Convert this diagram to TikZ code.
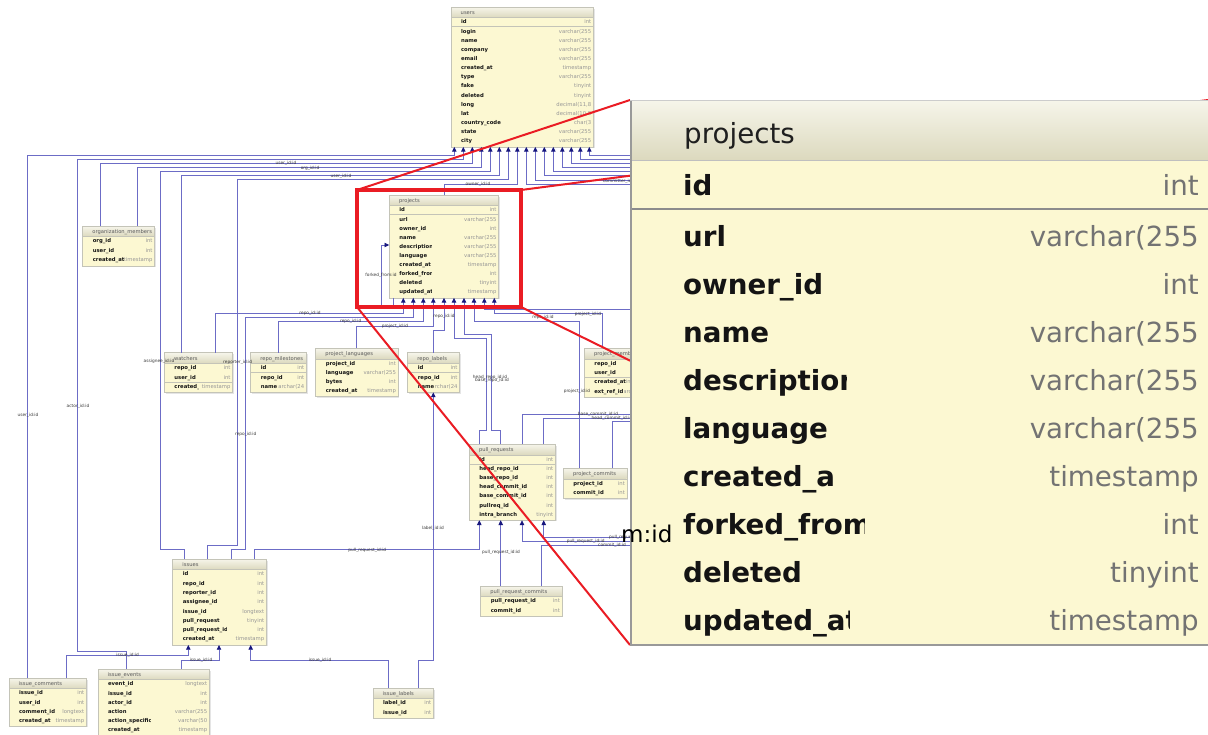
\documentclass[tikz,border=0pt]{standalone}
\usepackage{fontspec}
\setmainfont{DejaVu Sans}
\usetikzlibrary{arrows.meta}
\definecolor{fkline}{RGB}{108,108,198}
\definecolor{fkhead}{RGB}{22,22,125}
\definecolor{tbody}{RGB}{252,248,210}
\definecolor{thtop}{RGB}{246,245,234}
\definecolor{thbot}{RGB}{220,217,190}
\definecolor{tedge}{RGB}{196,196,184}
\definecolor{lensred}{RGB}{234,28,36}
\definecolor{nmcol}{RGB}{20,20,20}
\definecolor{tycol}{RGB}{150,150,150}

\tikzset{
  fklink/.style={draw=fkline, line width=0.85pt},
  fk/.style={fklink, -{Triangle[length=4.8pt,width=4.4pt,color=fkhead]}},
  fklabel/.style={font=\fontsize{4.3}{5}\selectfont, text=black!78, inner sep=0.3pt},
  hdtext/.style={font=\fontsize{5.2}{6}\selectfont, text=black!65, inner sep=0pt},
  nmtext/.style={font=\fontsize{5.3}{6}\selectfont\bfseries, text=nmcol, inner xsep=0.4pt, inner ysep=1.2pt},
  tytext/.style={font=\fontsize{5.3}{6}\selectfont, text=tycol, inner sep=0pt},
  bignm/.style={font=\fontsize{27.7}{30}\selectfont\bfseries, text=black!92, inner sep=0pt},
  bigty/.style={font=\fontsize{27.7}{30}\selectfont, text=black!55, inner sep=0pt},
}

% \dbtable{id}{x}{y}{width}{row step}{key rows}{name clip}{title}{rows}
\newcommand\dbtable[9]{%
  \def\nrows{0}%
  \foreach \nm/\ty [count=\k] in {#9}{\xdef\nrows{\k}}%
  \pgfmathsetmacro\tblh{15+(\nrows-1)*#5+5.5}%
  \fill[black!10] (#2+1.6,#3+1.6) rectangle ++(#4,\tblh);
  \node[fill=tbody, inner sep=0pt, minimum width=#4pt, minimum height=\tblh pt, anchor=north west] (#1) at (#2,#3) {};
  \shade[top color=thtop, bottom color=thbot] (#2,#3) rectangle ++(#4,10.5);
  \draw[tedge, line width=0.5pt] (#2,#3+10.5) -- ++(#4,0);
  \node[hdtext, anchor=base west] at (#2+9.5,#3+7.3) {#8};
  \foreach \nm/\ty [count=\k] in {#9}{%
    \pgfmathsetmacro\ry{#3+15+(\k-1)*#5}%
    \node[tytext, anchor=base east] at (#2+#4-1.6,\ry+1.9) {\ty};
    \begin{scope}
      \clip (#2+1,\ry-4.6) rectangle (#2+#7,\ry+4.6);
      \node[nmtext, fill=tbody, anchor=base west] at (#2+9.5,\ry+1.9) {\nm};
    \end{scope}
  }%
  \ifnum#6>0 \draw[tedge, line width=0.5pt] (#2,{#3+15+(#6-0.5)*#5}) -- ++(#4,0);\fi
  \draw[tedge, line width=0.6pt] (#1.north west) rectangle (#1.south east);
}

% one row of the enlarged projects table
\newcommand\bigrow[4]{%
  \node[bigty, anchor=base east] at (1199,#1+10) {#3};
  \begin{scope}
    \clip (640,#1-22) rectangle (#4,#1+22);
    \node[bignm, anchor=base west] at (683,#1+10) {#2};
  \end{scope}
}

\begin{document}
\begin{tikzpicture}[x=1pt,y=-1pt]
\useasboundingbox (0,0) rectangle (1208,734);
\fill[white] (0,0) rectangle (1208,734);

% ---------- tables ----------
\dbtable{users}{451}{7}{142}{9.15}{1}{49}{users}{id/int, login/varchar(255, name/varchar(255, company/varchar(255, email/varchar(255, created\_at/timestamp, type/varchar(255, fake/tinyint, deleted/tinyint, long/{decimal(11,8}, lat/{decimal(10,8}, country\_code/char(3, state/varchar(255, city/varchar(255}
\dbtable{projects}{389.3}{195}{109}{9.1}{1}{42}{projects}{id/int, url/varchar(255, owner\_id/int, name/varchar(255, description/varchar(255, language/varchar(255, created\_at/timestamp, forked\_from/int, deleted/tinyint, updated\_at/timestamp}
\dbtable{orgmem}{82.7}{226}{71.6}{9.5}{0}{41}{organization\_members}{org\_id/int, user\_id/int, created\_at/timestamp}
\dbtable{watchers}{164.3}{352.7}{68}{9.4}{2}{34}{watchers}{repo\_id/int, user\_id/int, created\_at/timestamp}
\dbtable{milestones}{250.7}{352.7}{55.3}{9.4}{1}{40}{repo\_milestones}{id/int, repo\_id/int, name/varchar(24}
\dbtable{projlang}{315.7}{348.3}{82}{9.1}{0}{48}{project\_languages}{project\_id/int, language/varchar(255, bytes/int, created\_at/timestamp}
\dbtable{repolabels}{407.7}{352.7}{51.6}{9.4}{1}{40}{repo\_labels}{id/int, repo\_id/int, name/varchar(24}
\dbtable{projmem}{584.3}{348.3}{70}{9.3}{2}{42}{project\_members}{repo\_id/int, user\_id/int, created\_at/timestamp, ext\_ref\_id/varchar(255}
\dbtable{pulls}{469.3}{444.3}{85.7}{9.17}{1}{57}{pull\_requests}{id/int, head\_repo\_id/int, base\_repo\_id/int, head\_commit\_id/int, base\_commit\_id/int, pullreq\_id/int, intra\_branch/tinyint}
\dbtable{projcommits}{563.3}{468.3}{63.4}{9.3}{0}{45}{project\_commits}{project\_id/int, commit\_id/int}
\dbtable{prcommits}{480.7}{586}{81}{9.3}{0}{60}{pull\_request\_commits}{pull\_request\_id/int, commit\_id/int}
\dbtable{issues}{172.7}{559}{93.3}{9.29}{0}{54}{issues}{id/int, repo\_id/int, reporter\_id/int, assignee\_id/int, issue\_id/longtext, pull\_request/tinyint, pull\_request\_id/int, created\_at/timestamp}
\dbtable{icomments}{9}{678}{77}{9.1}{0}{45}{issue\_comments}{issue\_id/int, user\_id/int, comment\_id/longtext, created\_at/timestamp}
\dbtable{ievents}{98}{669}{111}{9.1}{0}{52}{issue\_events}{event\_id/longtext, issue\_id/int, actor\_id/int, action/varchar(255, action\_specification/varchar(50, created\_at/timestamp}
\dbtable{ilabels}{373}{688}{60}{9.1}{0}{40}{issue\_labels}{label\_id/int, issue\_id/int}

% ---------- references to users ----------
\draw[fk] (27,0 |- icomments.north) -- (27,155) -| (454.3,0 |- users.south);
\draw[fk] (126,0 |- ievents.north) -- (126,651.7) -| (77,159) -| (463.3,0 |- users.south);
\draw[fk] (100,0 |- orgmem.north) -- (100,163) -| (472.3,0 |- users.south);
\draw[fk] (137,0 |- orgmem.north) -- (137,167.3) -| (481.3,0 |- users.south);
\draw[fk] (184.3,0 |- issues.north) -- (184.3,549.3) -| (160,171.3) -| (490.3,0 |- users.south);
\draw[fk] (181,0 |- watchers.north) -- (181,175.7) -| (499.3,0 |- users.south);
\draw[fk] (207.3,0 |- issues.north) -- (207.3,545) -| (237.3,179.7) -| (508.3,0 |- users.south);
\draw[fk] (444.3,0 |- projects.north) -- (444.3,184.7) -| (517.3,0 |- users.south);
\foreach \ax/\ly in {526.3/184, 535.3/180, 544.3/175.7, 553.3/171.7, 562.3/167.3, 571.3/163.3, 580.3/159, 589.3/155}
  \draw[fk] (640,\ly) -| (\ax,0 |- users.south);

% ---------- references to projects ----------
\draw[fk] (215.7,0 |- watchers.north) -- (215.7,313.3) -| (403.3,0 |- projects.south);
\draw[fk] (231,0 |- issues.north) -- (231,549.3) -| (245.7,317.3) -| (413.3,0 |- projects.south);
\draw[fk] (278.3,0 |- milestones.north) -- (278.3,321.7) -| (423.3,0 |- projects.south);
\draw[fk] (356.7,0 |- projlang.north) -- (356.7,326) -| (433.3,0 |- projects.south);
\draw[fk] (433.3,0 |- repolabels.north) -- (433.3,330) -| (444,0 |- projects.south);
\draw[fk] (479.3,0 |- pulls.north) -- (479.3,430) -| (486.7,338) -| (454,0 |- projects.south);
\draw[fk] (500.7,0 |- pulls.north) -- (500.7,430) -| (491.7,334) -| (464,0 |- projects.south);
\draw[fk] (579.3,0 |- projcommits.north) -- (579.3,321.7) -| (474,0 |- projects.south);
\draw[fk] (640,309) -| (484.3,0 |- projects.south);
\draw[fk] (602.7,0 |- projmem.north) -- (602.7,313.3) -| (494.3,0 |- projects.south);
\draw[fk] (393.3,0 |- projects.south) -- (393.3,305) -| (381,245) -- (projects.west |- 381,245);

% ---------- references to pull_requests ----------
\draw[fk] (254.3,0 |- issues.north) -- (254.3,549.3) -| (479.3,0 |- pulls.south);
\draw[fk] (500.7,0 |- prcommits.north) -- (500.7,0 |- pulls.south);
\draw[fk] (640,541.7) -| (522,0 |- pulls.south);
\draw[fk] (640,537.3) -| (543.7,0 |- pulls.south);
\draw[fklink] (541.7,0 |- prcommits.north) -- (541.7,545.7) -- (640,545.7);
\draw[fklink] (522,0 |- pulls.north) -- (522,414) -- (640,414);
\draw[fklink] (543.7,0 |- pulls.north) -- (543.7,418.3) -- (640,418.3);
\draw[fklink] (612.7,0 |- projcommits.north) -- (612.7,421.7) -- (640,421.7);

% ---------- references to issues and labels ----------
\draw[fk] (66.7,0 |- icomments.north) -- (66.7,655) -| (188.3,0 |- issues.south);
\draw[fk] (181,0 |- ievents.north) -- (181,660.7) -| (219,0 |- issues.south);
\draw[fk] (388,0 |- ilabels.north) -- (388,660.7) -| (250.7,0 |- issues.south);
\draw[fk] (418,0 |- ilabels.north) -- (418,660.7) -| (433.3,0 |- repolabels.south);

% ---------- connector labels ----------
\node[fklabel] at (28,415) {user\_id:id};
\node[fklabel] at (78,406) {actor\_id:id};
\node[fklabel] at (286,163.5) {user\_id:id};
\node[fklabel] at (310,168) {org\_id:id};
\node[fklabel] at (341,176.5) {user\_id:id};
\node[fklabel] at (159,361) {assignee\_id:id};
\node[fklabel] at (237.7,362.7) {reporter\_id:id};
\node[fklabel] at (478,184.7) {owner\_id:id};
\node[fklabel] at (310,313.3) {repo\_id:id};
\node[fklabel] at (350.7,321.7) {repo\_id:id};
\node[fklabel] at (395,326) {project\_id:id};
\node[fklabel] at (444,316) {repo\_id:id};
\node[fklabel] at (543,317.5) {repo\_id:id};
\node[fklabel] at (588,314) {project\_id:id};
\node[fklabel] at (577,391.7) {project\_id:id};
\node[fklabel] at (245.7,434) {repo\_id:id};
\node[fklabel] at (381,275) {forked\_from:id};
\node[fklabel] at (490,377) {head\_repo\_id:id};
\node[fklabel] at (492,380) {base\_repo\_id:id};
\node[fklabel] at (433,528) {label\_id:id};
\node[fklabel] at (367.3,550) {pull\_request\_id:id};
\node[fklabel] at (501,552.7) {pull\_request\_id:id};
\node[fklabel] at (585.7,541.7) {pull\_request\_id:id};
\node[fklabel] at (628,537.3) {pull\_request\_id:id};
\node[fklabel] at (612,545.7) {commit\_id:id};
\node[fklabel] at (598,414) {base\_commit\_id:id};
\node[fklabel] at (612,418.3) {head\_commit\_id:id};
\node[fklabel] at (620,181.5) {committer\_id:id};
\node[fklabel] at (127.7,655.5) {issue\_id:id};
\node[fklabel] at (201,660.7) {issue\_id:id};
\node[fklabel] at (320,660.7) {issue\_id:id};

% ---------- lens ----------
\draw[lensred, line width=2pt] (357,190) -- (630,100);
\draw[lensred, line width=2pt] (521,190) -- (1208,100);
\draw[lensred, line width=2pt] (357,307) -- (630,645);
\draw[lensred, line width=2pt] (521,307) -- (1208,645);
\draw[lensred, line width=3.6pt] (357,190) rectangle (521,307);

% ---------- enlarged projects table ----------
\fill[tbody] (630,100) rectangle (1208,645);
\shade[top color=thtop, bottom color=thbot] (630,100) rectangle (1208,160);
\draw[black!25, line width=1pt] (630,160) -- (1208,160);
\node[font=\fontsize{27.7}{30}\selectfont, text=black!88, inner sep=0pt, anchor=base west] at (684,143) {projects};
\bigrow{185}{id}{int}{1000}
\draw[black!45, line width=1.6pt] (630,209) -- (1208,209);
\bigrow{236}{url}{varchar(255}{1000}
\bigrow{284}{owner\_id}{int}{1000}
\bigrow{332}{name}{varchar(255}{1000}
\bigrow{380}{description}{varchar(255}{846}
\bigrow{428}{language}{varchar(255}{1000}
\bigrow{476}{created\_at}{timestamp}{834}
\bigrow{524}{forked\_from}{int}{864}
\bigrow{572}{deleted}{tinyint}{1000}
\bigrow{620}{updated\_at}{timestamp}{849}
\draw[black!40, line width=2pt] (631,100) -- (631,645) -- (1208,645);
\draw[black!20, line width=0.8pt] (630,100) -- (1208,100);
\node[font=\fontsize{23}{26}\selectfont, text=black, inner sep=0pt, anchor=base west] at (621,542) {m:id};
\end{tikzpicture}
\end{document}
